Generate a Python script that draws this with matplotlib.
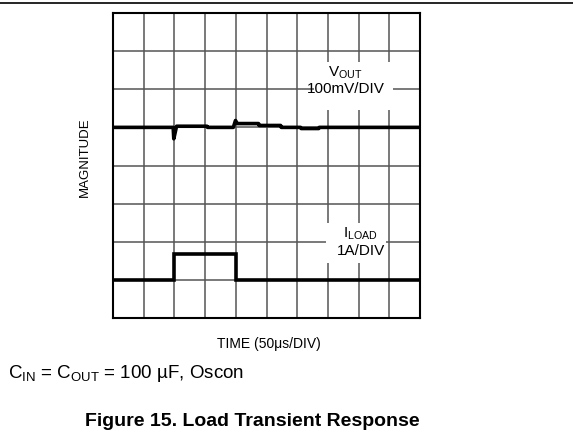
import matplotlib
matplotlib.use("Agg")
import matplotlib.pyplot as plt
from matplotlib.patches import Rectangle
from matplotlib.lines import Line2D

plt.rcParams['font.family'] = ['Liberation Sans', 'DejaVu Sans']
plt.rcParams['mathtext.fontset'] = 'custom'
plt.rcParams['mathtext.rm'] = 'Liberation Sans'
plt.rcParams['mathtext.it'] = 'Liberation Sans'

# scope trace, in divisions (10 x 8 grid)
vout_t = [0, 1.96, 1.98, 2.07, 3.06, 3.08, 3.92, 3.99, 4.05, 4.74, 4.76,
          5.46, 5.48, 6.11, 6.13, 6.70, 6.72, 10]
vout_v = [5.0, 5.0, 4.70, 5.03, 5.03, 5.0, 5.0, 5.18, 5.10, 5.10, 5.05,
          5.05, 5.0, 5.0, 4.97, 4.97, 5.0, 5.0]

iload_t = [0, 2.0, 2.0, 4.0, 4.0, 10]
iload_v = [1.0, 1.0, 1.68, 1.68, 1.0, 1.0]

n_xdiv = 10
n_ydiv = 8

W, H = 573, 445
fig = plt.figure(figsize=(W / 100, H / 100), dpi=100)
ax = fig.add_axes([113 / W, 1 - 318 / H, (420 - 113) / W, (318 - 13) / H])

ax.set_xlim(0, n_xdiv)
ax.set_ylim(0, n_ydiv)
ax.set_xticks(range(n_xdiv + 1))
ax.set_yticks(range(n_ydiv + 1))
ax.tick_params(length=0, labelbottom=False, labelleft=False)
ax.set_axisbelow(True)
ax.grid(True, color='#555555', linewidth=1.1)
for s in ax.spines.values():
    s.set_linewidth(1.5)
    s.set_color('black')

ax.plot(vout_t, vout_v, color='black', linewidth=2.6, zorder=4)
ax.plot(iload_t, iload_v, color='black', linewidth=2.6, zorder=4,
        solid_joinstyle='miter')

# white patches behind the trace labels
ax.add_patch(Rectangle((6.54, 5.45), 2.58, 1.26, facecolor='white',
                       edgecolor='none', zorder=2))
ax.add_patch(Rectangle((6.93, 1.45), 1.96, 1.05, facecolor='white',
                       edgecolor='none', zorder=2))

ax.text(7.58, 6.22, r'V$_{\mathrm{OUT}}$', ha='center', va='bottom',
        fontsize=11, zorder=3)
ax.text(7.58, 6.0, '100mV/DIV', ha='center', va='center',
        fontsize=11, zorder=3)
ax.text(8.07, 2.0, r'I$_{\mathrm{LOAD}}$', ha='center', va='bottom',
        fontsize=11, zorder=3)
ax.text(8.07, 1.76, '1A/DIV', ha='center', va='center',
        fontsize=11, zorder=3)

fig.text(85 / W, 1 - 157 / H, 'MAGNITUDE', rotation=90, ha='center',
         va='center', fontsize=9.5)
fig.text(269 / W, 1 - 344 / H, 'TIME (50\u03bcs/DIV)', ha='center',
         va='center', fontsize=10)
fig.text(8 / W, 1 - 373 / H,
         r'C$_{\mathrm{IN}}$ = C$_{\mathrm{OUT}}$ = 100 µF, Oscon',
         ha='left', va='center', fontsize=13.5)
fig.text(252 / W, 1 - 422 / H, 'Figure 15. Load Transient Response',
         ha='center', va='center', fontsize=14, fontweight='bold')

fig.add_artist(Line2D([0, 1], [1 - 3.3 / H, 1 - 3.3 / H], color='black',
                      linewidth=1.2, transform=fig.transFigure))

fig.savefig('out.png', dpi=100)
